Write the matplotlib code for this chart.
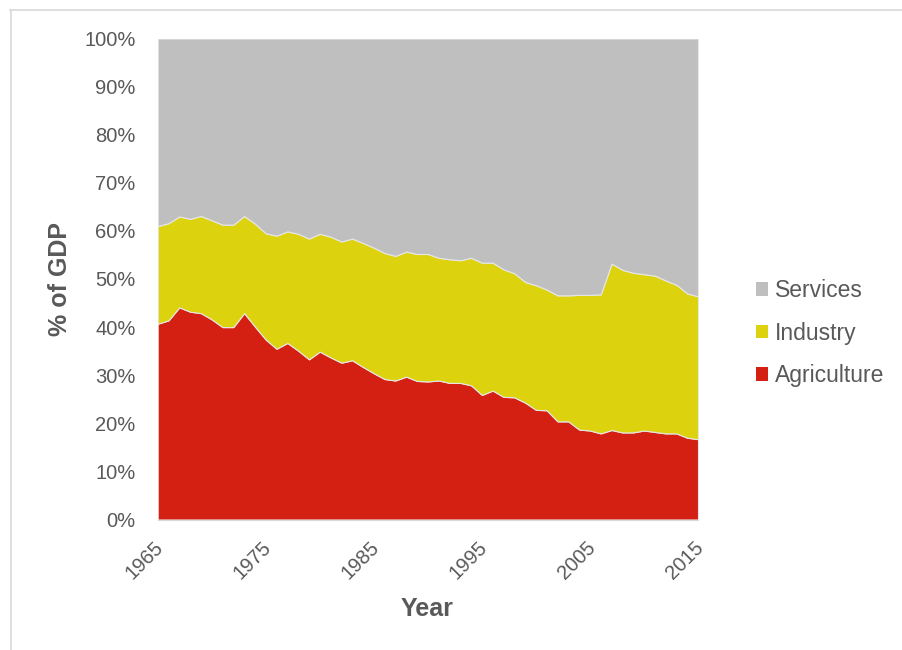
import matplotlib
matplotlib.use("Agg")
import matplotlib.pyplot as plt
from matplotlib.ticker import FuncFormatter, FixedLocator
from matplotlib.lines import Line2D
from matplotlib.patches import Patch
from matplotlib.transforms import ScaledTranslation
import numpy as np

plt.rcParams['font.family'] = ['Liberation Sans', 'DejaVu Sans']

years = list(range(1965, 2016))

# Sector shares of GDP (%)
agriculture = [40.7, 41.4, 44.1, 43.2, 42.9, 41.6, 40.0, 40.0, 42.9, 40.1,
               37.4, 35.5, 36.7, 35.1, 33.3, 34.9, 33.7, 32.6, 33.1, 31.7,
               30.4, 29.2, 28.9, 29.7, 28.8, 28.7, 28.9, 28.4, 28.4, 27.9,
               25.9, 26.8, 25.5, 25.4, 24.3, 22.8, 22.7, 20.4, 20.4, 18.7,
               18.5, 17.9, 18.6, 18.1, 18.1, 18.5, 18.2, 17.9, 17.9, 17.0,
               16.7]
# Cumulative top of industry (agriculture + industry)
agri_plus_industry = [61.0, 61.6, 63.0, 62.5, 63.1, 62.2, 61.3, 61.3, 63.1, 61.5,
                      59.5, 59.0, 59.9, 59.4, 58.4, 59.4, 58.8, 57.8, 58.4, 57.5,
                      56.5, 55.4, 54.8, 55.7, 55.2, 55.2, 54.4, 54.1, 53.9, 54.4,
                      53.4, 53.4, 52.0, 51.2, 49.4, 48.7, 47.8, 46.6, 46.6, 46.7,
                      46.7, 46.8, 53.2, 51.9, 51.3, 51.0, 50.7, 49.7, 48.8, 47.0,
                      46.4]

industry = [t - a for t, a in zip(agri_plus_industry, agriculture)]
services = [100 - t for t in agri_plus_industry]

series_names = ["Agriculture", "Industry", "Services"]
colors = ["#D42013", "#DDD20E", "#BFBFBF"]
x_ticks = [1965, 1975, 1985, 1995, 2005, 2015]

text_gray = "#595959"

fig = plt.figure(figsize=(9.02, 6.5), dpi=100)
ax = fig.add_axes([157.7 / 902, 1 - 519.5 / 650, (698 - 157.7) / 902, (519.5 - 38.5) / 650])

ax.stackplot(years, agriculture, industry, services, colors=colors,
             edgecolor="#e6e6e6", linewidth=0.8)

ax.set_xlim(1965, 2015)
ax.set_ylim(0, 100)
ax.yaxis.set_major_locator(FixedLocator(np.arange(0, 101, 10)))
ax.yaxis.set_major_formatter(FuncFormatter(lambda v, p: f"{int(round(v))}%"))
ax.xaxis.set_major_locator(FixedLocator(x_ticks))

for s in ["top", "right", "left"]:
    ax.spines[s].set_visible(False)
ax.spines["bottom"].set_color("#d9d9d9")
ax.tick_params(axis="both", length=0, colors=text_gray, labelsize=14.5)
ax.tick_params(axis="y", pad=16)
ax.tick_params(axis="x", pad=13)
shift = ScaledTranslation(-4 / 100, 0, fig.dpi_scale_trans)
for lbl in ax.get_xticklabels():
    lbl.set_rotation(45)
    lbl.set_ha("right")
    lbl.set_va("top")
    lbl.set_rotation_mode("anchor")
    lbl.set_transform(lbl.get_transform() + shift)

ax.set_xlabel("Year", fontsize=18, fontweight="bold", color=text_gray)
ax.xaxis.label.set_va("baseline")
ax.xaxis.set_label_coords((427 - 157.7) / 540.3, (519.5 - 616) / 481)
ax.set_ylabel("% of GDP", fontsize=18, fontweight="bold", color=text_gray)
ax.yaxis.label.set_va("center")
ax.yaxis.set_label_coords((60 - 157.7) / 540.3, (519.5 - 279) / 481)

handles = [Patch(facecolor=c, edgecolor="none", label=n)
           for n, c in zip(series_names, colors)][::-1]
leg = fig.legend(handles=handles, loc="center left",
                 bbox_to_anchor=(756 / 902, 1 - 333 / 650),
                 frameon=False, fontsize=16.5, labelcolor=text_gray,
                 borderpad=0, borderaxespad=0,
                 handlelength=0.52, handleheight=0.52, handletextpad=0.3,
                 labelspacing=0.85)

# Frame lines along the top and left of the figure
fig.add_artist(Line2D([10 / 902, 1.0], [1 - 9.5 / 650, 1 - 9.5 / 650],
                      transform=fig.transFigure, color="#d9d9d9", linewidth=1.2))
fig.add_artist(Line2D([10.5 / 902, 10.5 / 902], [0.0, 1 - 9.5 / 650],
                      transform=fig.transFigure, color="#d9d9d9", linewidth=1.2))

fig.savefig("out.png", dpi=100)
